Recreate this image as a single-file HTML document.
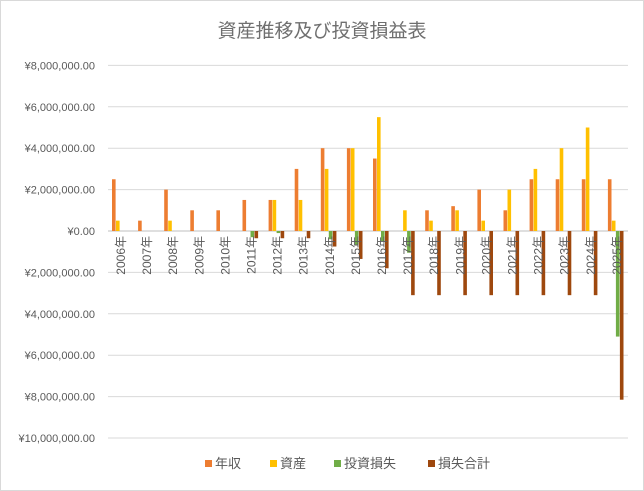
<!DOCTYPE html>
<html><head><meta charset="utf-8"><style>
html,body{margin:0;padding:0;background:#fff;}
svg{display:block;}
text{font-family:"Liberation Sans","Noto Sans CJK JP",sans-serif;fill:#595959;}
</style></head><body>
<svg id="c" width="644" height="491" xmlns="http://www.w3.org/2000/svg">
<rect x="0.5" y="0.5" width="643" height="490" fill="#fff" stroke="#d9d9d9"/>
<text x="322" y="37" font-size="19" text-anchor="middle" style="fill:#6f6f6f">資産推移及び投資損益表</text>
<g id="g"></g>
<g font-size="13">
<rect x="205" y="460" width="7" height="7" fill="#ed7d31"/><text x="215" y="468">年収</text>
<rect x="270" y="460" width="7" height="7" fill="#ffc000"/><text x="280" y="468">資産</text>
<rect x="334" y="460" width="7" height="7" fill="#70ad47"/><text x="344" y="468">投資損失</text>
<rect x="428" y="460" width="7" height="7" fill="#9e480e"/><text x="438" y="468">損失合計</text>
</g>
</svg>
<script>
var d=[[2.5,.5,0,0],[.5,0,0,0],[2,.5,0,0],[1,0,0,0],[1,0,0,0],[1.5,0,-.3,-.35],[1.5,1.5,-.1,-.35],[3,1.5,0,-.35],[4,3,-.4,-.75],[4,4,-.65,-1.35],[3.5,5.5,-.5,-1.8],[0,1,-1.05,-3.1],[1,.5,0,-3.1],[1.2,1,0,-3.1],[2,.5,0,-3.1],[1,2,0,-3.1],[2.5,3,0,-3.1],[2.5,4,0,-3.1],[2.5,5,0,-3.1],[2.5,.5,-5.1,-8.15]];
var col=["#ed7d31","#ffc000","#70ad47","#9e480e"];
var s="",z=231,k=20.7,x0=107,w=26.1;
for(var i=0;i<10;i++){var v=8-2*i,y=z-v*k;
s+='<line x1="108" x2="628" y1="'+y+'" y2="'+y+'" stroke="'+(v==0?'#bfbfbf':'#d9d9d9')+'"/>';
var lab='¥'+Math.abs(v).toLocaleString('en-US')+',000,000.00';
if(v==0)lab='¥0.00';
s+='<text x="95" y="'+(y+4)+'" font-size="11" text-anchor="end">'+lab+'</text>';}
for(var i=0;i<20;i++){for(var j=0;j<4;j++){var v=d[i][j];if(!v)continue;var y=v>0?z-v*k:z,h=Math.abs(v)*k;
s+='<rect x="'+(x0+i*w+5+j*4)+'" y="'+y+'" width="3.6" height="'+h+'" fill="'+col[j]+'"/>';}
var cx=x0+i*w+13.5;
s+='<text transform="translate('+(cx+4.5)+',236) rotate(-90)" font-size="12" text-anchor="end">'+(2006+i)+'年</text>';}
document.getElementById('g').innerHTML=s;
</script>
</body></html>
